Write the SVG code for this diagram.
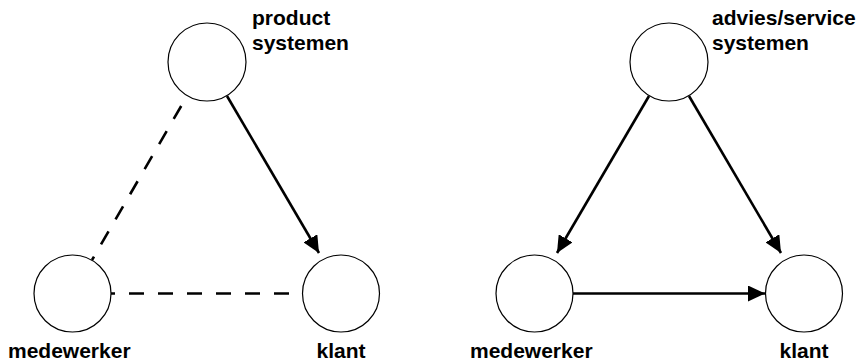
<svg xmlns="http://www.w3.org/2000/svg" width="866" height="363" viewBox="0 0 866 363">
  <style>
    .node circle { fill: #ffffff; stroke: #000000; stroke-width: 1.2; }
    .label { font-family: "Liberation Sans", Arial, Helvetica, sans-serif; font-size: 21px; font-weight: bold; fill: #000000; }
    .edge { fill: none; stroke: #000000; stroke-width: 2.6; }
    .dashed { stroke-dasharray: 15 14; stroke-dashoffset: 11; }
  </style>
  <defs>
    <marker id="arrow" markerUnits="userSpaceOnUse" markerWidth="18" markerHeight="16" refX="17" refY="8" orient="auto">
      <path d="M0,0 L17,8 L0,16 Z" fill="#000000"/>
    </marker>
  </defs>

  <!-- left triangle -->
  <g id="product-systemen" class="node">
    <circle cx="207" cy="62" r="39"/>
    <text class="label" x="252" y="25">product</text>
    <text class="label" x="252" y="50">systemen</text>
  </g>
  <g id="medewerker-left" class="node">
    <circle cx="72.5" cy="293.5" r="38.5"/>
    <text class="label" x="8" y="358">medewerker</text>
  </g>
  <g id="klant-left" class="node">
    <circle cx="341" cy="293.5" r="38.5"/>
    <text class="label" x="341" y="358" text-anchor="middle">klant</text>
  </g>

  <!-- right triangle -->
  <g id="advies-systemen" class="node">
    <circle cx="669" cy="62" r="39"/>
    <text class="label" x="712" y="25">advies/service</text>
    <text class="label" x="712" y="50">systemen</text>
  </g>
  <g id="medewerker-right" class="node">
    <circle cx="534.5" cy="293.5" r="38.5"/>
    <text class="label" x="470" y="358">medewerker</text>
  </g>
  <g id="klant-right" class="node">
    <circle cx="804" cy="293.5" r="38.5"/>
    <text class="label" x="804" y="358" text-anchor="middle">klant</text>
  </g>

  <g id="connectors">
    <!-- left: dashed links, solid arrow to klant -->
    <line class="edge dashed" x1="92" y1="260" x2="187" y2="96"/>
    <line class="edge dashed" x1="111" y1="293.5" x2="302" y2="293.5"/>
    <line class="edge" x1="227" y1="96" x2="319" y2="253" marker-end="url(#arrow)"/>
    <!-- right: all solid arrows -->
    <line class="edge" x1="649" y1="96" x2="557" y2="253" marker-end="url(#arrow)"/>
    <line class="edge" x1="689" y1="96" x2="781" y2="253" marker-end="url(#arrow)"/>
    <line class="edge" x1="573" y1="293.5" x2="765" y2="293.5" marker-end="url(#arrow)"/>
  </g>
</svg>
